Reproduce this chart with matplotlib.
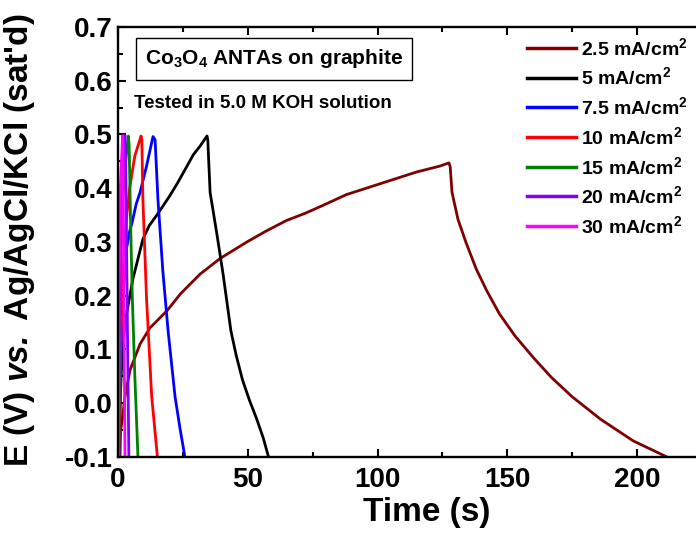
import numpy as np
import matplotlib
matplotlib.use("Agg")
import matplotlib.pyplot as plt

plt.rcParams['font.family'] = ['Liberation Sans', 'DejaVu Sans']
plt.rcParams['font.weight'] = 'bold'
plt.rcParams['mathtext.fontset'] = 'custom'
plt.rcParams['mathtext.rm'] = 'Liberation Sans:bold'
plt.rcParams['mathtext.bf'] = 'Liberation Sans:bold'
plt.rcParams['mathtext.it'] = 'Liberation Sans:italic:bold'
plt.rcParams['mathtext.bfit'] = 'Liberation Sans:italic:bold'

# galvanostatic charge/discharge curves (time s, E V)
t_25 = [0.8, 1.0, 1.5, 2.7, 4.6, 8.5, 12.3, 18.9, 24, 31.6, 39.3, 49.7, 57, 65, 72, 79, 88, 97, 106, 115, 124, 127.5,
        128, 128.7, 131, 134, 138, 142, 147, 153, 160, 167, 175, 186, 198.5, 211.5]
e_25 = [-0.1, -0.05, -0.036, 0.012, 0.061, 0.11, 0.14, 0.172, 0.203, 0.24, 0.269, 0.30, 0.32, 0.34, 0.353, 0.368, 0.388, 0.402, 0.416, 0.43, 0.441, 0.447,
        0.44, 0.392, 0.342, 0.30, 0.25, 0.21, 0.166, 0.125, 0.085, 0.048, 0.012, -0.03, -0.07, -0.1]

t_5 = [0.3, 0.8, 1.5, 2.5, 3.5, 5.8, 9.6, 12, 15, 20, 23, 26.6, 29, 31.6, 34.3,
       34.6, 35.5, 38, 40.5, 43.5, 45.5, 48, 50.7, 53.5, 56, 58]
e_5 = [-0.1, 0.0, 0.08, 0.14, 0.172, 0.232, 0.305, 0.33, 0.35, 0.386, 0.41, 0.441, 0.462, 0.478, 0.497,
       0.49, 0.392, 0.318, 0.24, 0.135, 0.09, 0.043, 0.005, -0.03, -0.065, -0.1]

t_75 = [0.5, 1.2, 2, 3, 4.5, 5.4, 7, 8.5, 11, 13.5, 14.3, 15.4, 17.3, 19.3, 22, 24, 25.8]
e_75 = [-0.1, 0.1, 0.2, 0.28, 0.32, 0.335, 0.37, 0.392, 0.441, 0.496, 0.49, 0.379, 0.245, 0.135, 0.012, -0.05, -0.1]

t_10 = [0.4, 1, 2, 3.2, 4.5, 6.5, 8.9, 9.2, 9.6, 11, 13, 15.2]
e_10 = [-0.1, 0.1, 0.25, 0.34, 0.4, 0.46, 0.497, 0.49, 0.379, 0.195, 0.012, -0.1]

t_15 = [0.3, 0.8, 1.5, 2.5, 4, 4.3, 4.8, 5.5, 6.5, 7.7]
e_15 = [-0.1, 0.2, 0.35, 0.43, 0.497, 0.48, 0.35, 0.2, 0.05, -0.1]

t_20 = [0.2, 0.6, 1.2, 2, 2.7, 3.0, 3.4, 3.8, 4.2]
e_20 = [-0.1, 0.2, 0.38, 0.46, 0.498, 0.45, 0.25, 0.07, -0.1]

t_30 = [0.15, 0.4, 0.9, 1.8, 2.0, 2.2, 2.45, 2.7]
e_30 = [-0.1, 0.2, 0.4, 0.498, 0.45, 0.25, 0.07, -0.1]

labels = ['2.5', '5', '7.5', '10', '15', '20', '30']
colors = ['#800000', '#000000', '#0000ff', '#ff0000', '#008000', '#8000ff', '#ff00ff']

fig = plt.figure(figsize=(6.96, 5.37), dpi=100)
ax = fig.add_axes([0.1695, 0.149, 0.895, 0.801])

series = [(t_25, e_25), (t_5, e_5), (t_75, e_75), (t_10, e_10), (t_15, e_15), (t_20, e_20), (t_30, e_30)]
for (t, e), lab, c in zip(series, labels, colors):
    ax.plot(t, e, color=c, lw=2.0, label=lab + r' mA/cm$^\mathbf{2}$')

ax.set_xlim(0, 240)
ax.set_ylim(-0.1, 0.7)
ax.set_xticks([0, 50, 100, 150, 200])
ax.set_xticks([25, 75, 125, 175, 225], minor=True)
ax.set_yticks(np.arange(-0.1, 0.71, 0.1))
ax.set_yticks(np.arange(-0.05, 0.7, 0.1), minor=True)
ax.set_yticklabels(['-0.1', '0.0', '0.1', '0.2', '0.3', '0.4', '0.5', '0.6', '0.7'])
ax.tick_params(which='both', direction='in', top=True, right=False, width=1.5, labelsize=20)
ax.tick_params(which='major', length=6)
ax.tick_params(which='minor', length=3.5)
ax.tick_params(axis='x', pad=7)
ax.tick_params(axis='y', pad=4)
for s in ax.spines.values():
    s.set_linewidth(1.7)

ax.set_xlabel('Time (s)', fontsize=24, fontweight='bold')
ax.xaxis.set_label_coords(427 / 696, 1 - 497 / 537, transform=fig.transFigure)
ax.set_ylabel(r"E (V) $\mathbfit{vs.}$ Ag/AgCl/KCl (sat'd)", fontsize=24, fontweight='bold')
ax.yaxis.set_label_coords(37 / 696, 1 - 240 / 537, transform=fig.transFigure)

fig.text(145 / 696, 1 - 59 / 537, r'Co$_\mathbf{3}$O$_\mathbf{4}$ ANTAs on graphite', fontsize=15,
         fontweight='bold', va='center', ha='left',
         bbox=dict(boxstyle='square,pad=0.45', fc='white', ec='black', lw=1))
fig.text(134 / 696, 1 - 104 / 537, 'Tested in 5.0 M KOH solution', fontsize=13.5,
         fontweight='bold', va='center', ha='left')

leg = ax.legend(loc='upper left', bbox_to_anchor=(527 / 696, 1 - 37 / 537), bbox_transform=fig.transFigure,
                frameon=False, fontsize=14, handlelength=2.5, handletextpad=0.3, labelspacing=0.4,
                borderaxespad=0, borderpad=0)
for line in leg.get_lines():
    line.set_linewidth(2.5)

fig.savefig('out.png', dpi=100)
